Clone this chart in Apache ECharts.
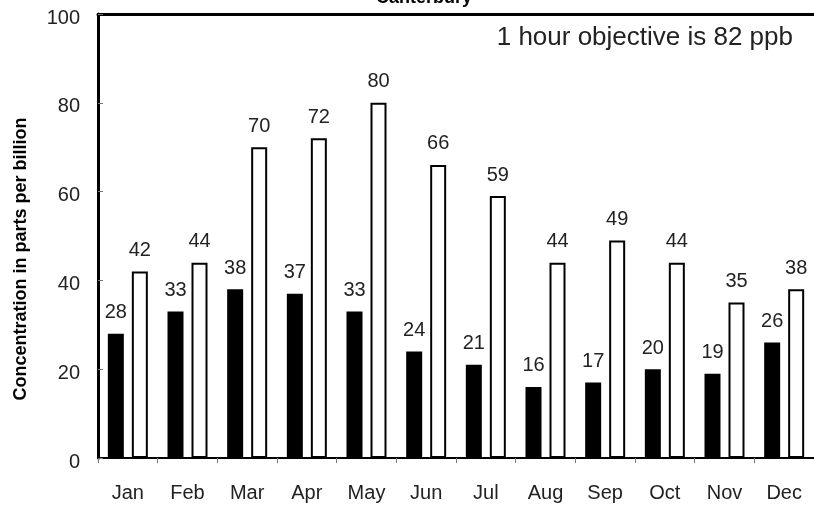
<!DOCTYPE html>
<html>
<head>
<meta charset="utf-8">
<script src="https://cdn.jsdelivr.net/npm/echarts@6/dist/echarts.min.js"></script>
<style>
html,body{margin:0;padding:0;background:#fff;}
#chart{width:814px;height:505px;}
</style>
</head>
<body>
<div id="chart"></div>
<script>
const months = ['Jan','Feb','Mar','Apr','May','Jun','Jul','Aug','Sep','Oct','Nov','Dec'];
const meanValues = [28,33,38,37,33,24,21,16,17,20,19,26];
const maxValues = [42,44,70,72,80,66,59,44,49,44,35,38];
const yTicks = [0,20,40,60,80,100];
const titleText = 'Canterbury';
const noteText = '1 hour objective is 82 ppb';
const yAxisTitle = 'Concentration in parts per billion';

const FONT = "'Liberation Sans', Arial, sans-serif";
const chart = echarts.init(document.getElementById('chart'), null, {renderer:'canvas'});
chart.setOption({
  animation:false,
  backgroundColor:'#fff',
  grid:{left:98, top:14, width:720, height:444, containLabel:false},
  graphic:[
    {type:'text', x:424, y:-2, style:{text:titleText, fontFamily:FONT, fontSize:18, fontWeight:'bold', fill:'#000', align:'center', verticalAlign:'middle'}},
    {type:'text', x:793, y:38, style:{text:noteText, fontFamily:FONT, fontSize:26, fill:'#222', align:'right', verticalAlign:'middle'}}
  ],
  xAxis:[{
    type:'category', data:months, position:'bottom',
    axisLine:{lineStyle:{color:'#000', width:2}},
    axisTick:{show:true, inside:false, length:5, lineStyle:{color:'#777', width:1}},
    axisLabel:{fontFamily:FONT, fontSize:20, color:'#222', margin:25},
    splitLine:{show:false}
  },{
    type:'category', data:months, position:'top',
    axisLine:{show:true, lineStyle:{color:'#000', width:3}},
    axisTick:{show:false}, axisLabel:{show:false}, splitLine:{show:false}
  }],
  yAxis:{
    type:'value', min:yTicks[0], max:yTicks[yTicks.length-1], interval:20,
    name:yAxisTitle, nameLocation:'middle', nameGap:68,
    nameTextStyle:{fontFamily:FONT, fontSize:18, fontWeight:'bold', color:'#000', padding:[0,46,0,0]},
    axisLine:{show:true, lineStyle:{color:'#000', width:3}},
    axisTick:{show:true, inside:true, length:5, lineStyle:{color:'#777', width:1}},
    axisLabel:{margin:18, formatter:'{v|{value}}',
      rich:{v:{fontFamily:FONT, fontSize:20, color:'#222', padding:[8,0,0,0]}}},
    splitLine:{show:false}
  },
  series:[{
    type:'bar', data:meanValues, barWidth:16, barGap:'50%',
    itemStyle:{color:'#000'},
    label:{show:true, position:'top', distance:11, fontFamily:FONT, fontSize:20, color:'#222'}
  },{
    type:'bar', data:maxValues, barWidth:16, barGap:'50%',
    itemStyle:{color:'#fff', borderColor:'#000', borderWidth:2},
    label:{show:true, position:'top', distance:11, fontFamily:FONT, fontSize:20, color:'#222'}
  }]
});
</script>
</body>
</html>
